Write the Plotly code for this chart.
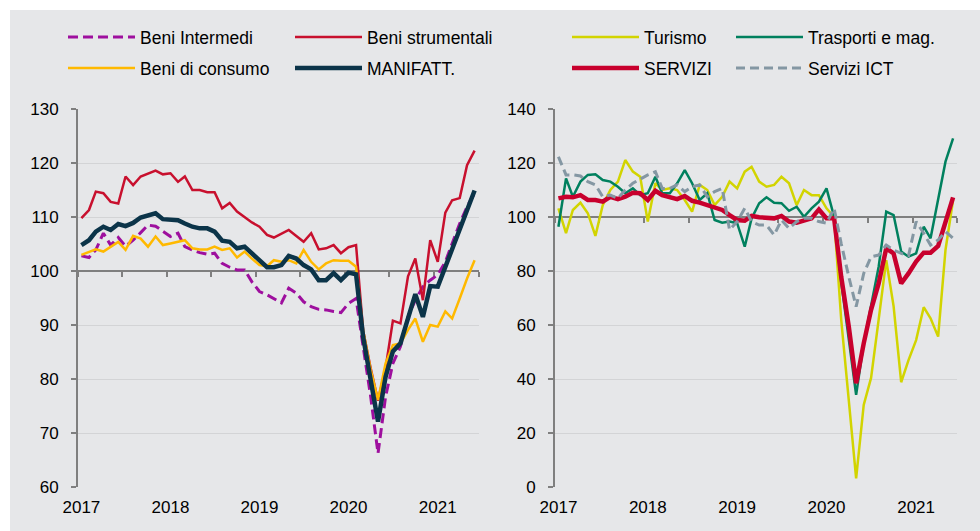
import pandas as pd
import plotly.graph_objects as go

# ---------------- data ----------------
months = pd.date_range("2017-01-01", periods=54, freq="MS") + pd.Timedelta(days=14)
year_labels = ["2017", "2018", "2019", "2020", "2021"]
year_label_dates = ["2017-01-15", "2018-01-15", "2019-01-15", "2020-01-15", "2021-01-15"]

beni_intermedi = [102.8, 102.5, 103.9, 107.0, 104.8, 106.2, 104.6, 105.7, 107.1, 108.5,
                  108.3, 107.3, 106.4, 107.0, 104.5, 103.9, 103.4, 103.1, 103.3, 101.4,
                  100.7, 100.2, 100.2, 98.0, 96.2, 95.6, 94.9, 94.1, 96.8, 95.9,
                  94.3, 93.4, 92.9, 92.8, 92.5, 92.3, 94.0, 94.9, 86.0, 76.7,
                  66.2, 76.7, 82.9, 86.0, 91.5, 94.6, 97.1, 98.3, 99.3, 101.7,
                  105.1, 108.8, 111.9, 114.4]
beni_strumentali = [109.8, 111.3, 114.7, 114.4, 112.8, 112.5, 117.5, 115.9, 117.5, 118.0,
                    118.6, 117.9, 118.1, 116.5, 117.5, 115.0, 115.0, 114.6, 114.6, 111.6,
                    112.6, 111.0, 109.9, 109.0, 108.2, 106.7, 106.2, 106.9, 107.6, 106.5,
                    105.4, 107.0, 104.0, 104.2, 104.8, 103.3, 104.4, 104.8, 89.0, 82.0,
                    76.0, 82.0, 90.8, 90.3, 99.0, 102.3, 94.6, 105.7, 101.7, 110.8,
                    113.1, 113.5, 119.6, 122.3]
beni_consumo = [103.0, 103.6, 104.0, 103.6, 104.5, 105.4, 103.9, 106.5, 106.0, 104.5,
                106.4, 104.8, 105.1, 105.4, 105.7, 104.2, 104.0, 104.0, 104.5, 103.9,
                104.2, 102.5, 103.6, 102.3, 101.1, 100.9, 102.0, 101.7, 102.0, 101.4,
                103.9, 101.7, 100.3, 101.4, 102.0, 101.9, 101.9, 100.8, 89.0, 81.7,
                76.1, 82.9, 86.3, 86.6, 89.1, 91.2, 86.9, 90.0, 89.7, 92.5,
                91.2, 94.9, 98.6, 102.0]
manifatt = [104.8, 105.7, 107.3, 108.2, 107.6, 108.7, 108.3, 108.9, 109.9, 110.2,
            110.7, 109.6, 109.4, 109.4, 108.8, 108.2, 107.9, 107.9, 107.3, 105.6,
            105.4, 104.2, 104.5, 103.3, 101.9, 100.7, 100.7, 101.1, 102.8, 102.3,
            101.1, 100.3, 98.3, 98.3, 99.6, 98.3, 99.7, 99.4, 87.8, 79.8,
            72.1, 80.4, 85.1, 86.6, 91.2, 95.7, 91.5, 97.2, 97.1, 100.8,
            103.9, 107.6, 111.3, 114.9]

turismo = [103.2, 94.0, 102.6, 105.3, 101.4, 93.0, 104.4, 110.0, 113.1, 121.1,
           116.8, 114.9, 98.3, 112.5, 110.0, 110.6, 110.0, 106.3, 102.0, 111.9,
           110.0, 104.4, 107.5, 113.1, 110.6, 116.8, 118.6, 113.1, 111.2, 111.9,
           114.9, 112.5, 104.4, 110.0, 108.1, 108.1, 103.2, 100.0, 62.0, 33.0,
           3.2, 30.4, 40.4, 62.0, 84.0, 67.0, 38.8, 47.0, 54.4, 66.6,
           62.5, 55.7, 87.8, 106.3]
trasporti = [96.4, 114.3, 107.5, 113.1, 115.6, 115.8, 113.7, 113.1, 111.2, 108.8,
             110.6, 108.1, 108.8, 114.9, 108.8, 108.8, 112.5, 117.4, 112.5, 106.3,
             108.8, 98.9, 97.9, 98.3, 97.7, 89.0, 99.5, 105.1, 107.3, 105.3,
             105.1, 102.3, 103.8, 100.1, 103.2, 105.7, 110.6, 100.1, 76.0, 55.7,
             34.1, 53.2, 66.8, 81.6, 102.0, 100.7, 87.2, 85.3, 86.5, 96.4,
             92.1, 106.3, 120.5, 129.1]
servizi = [106.9, 107.5, 107.3, 108.1, 106.3, 106.3, 105.7, 107.5, 106.6, 107.5,
           109.0, 108.8, 106.3, 109.7, 108.1, 107.5, 106.6, 107.8, 106.0, 105.3,
           104.4, 103.2, 102.6, 100.7, 98.9, 98.6, 100.4, 99.9, 99.5, 99.5,
           100.4, 98.3, 97.9, 98.6, 99.5, 102.8, 99.5, 99.5, 77.9, 59.4,
           38.4, 53.2, 65.6, 75.4, 88.4, 86.5, 75.4, 79.1, 83.5, 86.8,
           86.8, 89.3, 98.9, 107.3]
servizi_ict = [122.3, 115.6, 115.6, 115.2, 113.1, 111.9, 107.5, 108.1, 106.9, 110.0,
               112.5, 114.0, 115.6, 116.8, 110.6, 110.6, 111.9, 109.4, 111.2, 111.9,
               107.5, 109.4, 110.6, 95.2, 98.3, 103.2, 98.3, 97.0, 97.0, 93.3,
               98.9, 95.8, 98.3, 99.5, 99.5, 98.3, 97.7, 103.2, 90.2, 77.9,
               66.8, 79.1, 85.3, 85.9, 89.6, 87.8, 86.5, 85.7, 98.3, 94.0,
               89.6, 91.5, 94.6, 92.1]

# ---------------- styling / geometry ----------------
W, H = 980, 531
FONT = "Liberation Sans, Arial, sans-serif"
BG = "#E6E7E9"
GRID = "#D3D4D6"
AX = "#7F7F7F"


def fx(p):
    return p / W


def fy(p):
    return 1 - p / H


Y_DOM = [fy(487), fy(109)]
XL_DOM = [fx(78), fx(478.5)]
XR_DOM = [fx(555), fx(957)]
X_RANGE = ["2017-01-01", "2021-07-01"]
YL_RANGE = [60, 130]
YR_RANGE = [0, 140]


def pos_of(value, rng):
    return Y_DOM[0] + (value - rng[0]) / (rng[1] - rng[0]) * (Y_DOM[1] - Y_DOM[0])


series_left = [
    ("Beni Intermedi", beni_intermedi, "#9E0F9E", 3, "10px,5px", "legend"),
    ("Beni strumentali", beni_strumentali, "#C8102E", 2.5, "solid", "legend2"),
    ("Beni di consumo", beni_consumo, "#FFB900", 2.5, "solid", "legend3"),
    ("MANIFATT.", manifatt, "#0B3449", 4.5, "solid", "legend4"),
]
series_right = [
    ("Turismo", turismo, "#D2D400", 2.5, "solid", "legend5"),
    ("Trasporti e mag.", trasporti, "#00805E", 2.5, "solid", "legend6"),
    ("SERVIZI", servizi, "#C8002D", 4.5, "solid", "legend7"),
    ("Servizi ICT", servizi_ict, "#8497A3", 3, "9px,5px", "legend8"),
]
# legend text start (px) and row centre (px)
legend_pos = {
    "legend": (141, 38), "legend2": (368, 38), "legend3": (141, 69), "legend4": (368, 69),
    "legend5": (645, 38), "legend6": (809, 38), "legend7": (645, 69), "legend8": (809, 69),
}

fig = go.Figure()
for name, vals, col, w, dash, lg in series_left:
    fig.add_trace(go.Scatter(x=months, y=vals, name=name, mode="lines",
                             line=dict(color=col, width=w, dash=dash),
                             xaxis="x", yaxis="y", legend=lg))
for name, vals, col, w, dash, lg in series_right:
    fig.add_trace(go.Scatter(x=months, y=vals, name=name, mode="lines",
                             line=dict(color=col, width=w, dash=dash),
                             xaxis="x2", yaxis="y2", legend=lg))

# empty carriers so the year-label axes get their own (overlaid) subplots
fig.add_trace(go.Scatter(x=[], y=[], xaxis="x3", yaxis="y", showlegend=False, hoverinfo="skip"))
fig.add_trace(go.Scatter(x=[], y=[], xaxis="x4", yaxis="y2", showlegend=False, hoverinfo="skip"))

tickfont = dict(family=FONT, size=17, color="black")

line_axis = dict(type="date", range=X_RANGE, showline=True, linecolor=AX, linewidth=2,
                 ticks="outside", ticklen=5, tickwidth=1.5, tickcolor=AX,
                 dtick="M6", tick0="2017-01-01", showticklabels=False,
                 showgrid=False, zeroline=False, layer="below traces", anchor="free",
                 automargin=False)
label_axis = dict(type="date", range=X_RANGE, showline=False, ticks="",
                  tickmode="array", tickvals=year_label_dates, ticktext=year_labels,
                  tickfont=tickfont, showticklabels=True, automargin=False,
                  showgrid=False, zeroline=False, ticklabelstandoff=8, side="bottom")
y_common = dict(showgrid=True, gridcolor=GRID, gridwidth=1, showline=True, linecolor=AX,
                linewidth=2, ticks="outside", ticklen=5, tickwidth=1.5, tickcolor=AX,
                tickfont=tickfont, zeroline=False, ticklabelstandoff=9, domain=Y_DOM,
                automargin=False)

layout = dict(
    template="none",
    width=W, height=H, margin=dict(l=0, r=0, t=0, b=0, pad=0, autoexpand=False),
    paper_bgcolor="white", plot_bgcolor="rgba(0,0,0,0)",
    font=dict(family=FONT, size=17, color="black"),
    xaxis=dict(line_axis, domain=XL_DOM, position=pos_of(100, YL_RANGE)),
    xaxis2=dict(line_axis, domain=XR_DOM, position=pos_of(100, YR_RANGE)),
    xaxis3=dict(label_axis, overlaying="x", anchor="y"),
    xaxis4=dict(label_axis, overlaying="x2", anchor="y2"),
    yaxis=dict(y_common, anchor="x", range=YL_RANGE, dtick=10, tick0=60),
    yaxis2=dict(y_common, anchor="x2", range=YR_RANGE, dtick=20, tick0=0),
    shapes=[dict(type="rect", xref="paper", yref="paper", x0=fx(10), x1=1, y0=0, y1=fy(10),
                 fillcolor=BG, line=dict(width=0), layer="below")],
    showlegend=True,
    hovermode=False,
)
for lg, (tx, ty) in legend_pos.items():
    layout[lg] = dict(x=fx(tx - 78), y=fy(ty - 19), xanchor="left", yanchor="top",
                      xref="container", yref="container",
                      orientation="h", bgcolor="rgba(0,0,0,0)", borderwidth=0,
                      itemwidth=67, font=dict(family=FONT, size=17.5, color="black"))

fig.update_layout(**layout)
fig.write_html("out.html",
               config={"displayModeBar": False},
               post_script="document.body.style.margin='0px';"
                           "document.body.style.overflow='hidden';")
